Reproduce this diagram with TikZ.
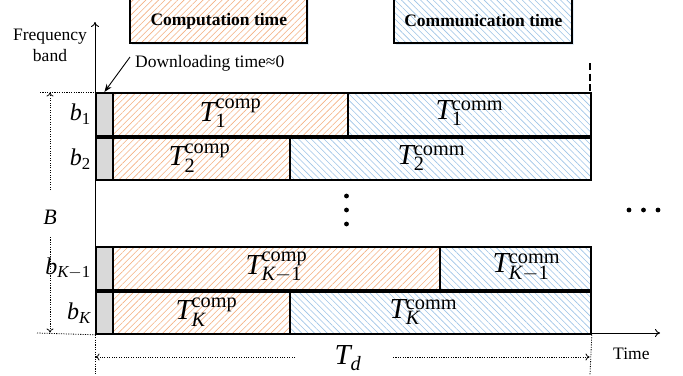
\documentclass[tikz,border=0pt]{standalone}
\usepackage{fontspec}
\setmainfont{Liberation Serif}
\usetikzlibrary{patterns.meta,arrows.meta,shadows}
\definecolor{comporange}{HTML}{F4B183}
\definecolor{commblue}{HTML}{9DC3E6}
\definecolor{dlgray}{HTML}{D9D9D9}
\newcommand{\Tl}[2]{$\mathit{T}_{#1}^{\mathrm{#2}}$}
\begin{document}
\begin{tikzpicture}[x=1pt,y=-1pt,
  bar/.style={draw,line width=1.8pt,inner sep=0pt,anchor=north west,minimum height=#1},
  dlbox/.style={bar=#1,fill=dlgray,minimum width=17pt},
  compfill/.style={pattern={Lines[angle=45,distance=4.5pt,line width=0.6pt]},pattern color=comporange},
  commfill/.style={pattern={Lines[angle=-45,distance=4.5pt,line width=0.6pt]},pattern color=commblue},
  tlabel/.style={font=\fontsize{29}{29}\selectfont,inner sep=0pt},
  blabel/.style={font=\fontsize{24}{24}\selectfont,inner sep=0pt,anchor=east},
  txt/.style={font=\fontsize{17.5}{21}\selectfont,inner sep=0pt},
  legend/.style={draw,line width=1.8pt,anchor=north west,minimum height=45pt,inner sep=0pt,
     font=\fontsize{17.5}{17.5}\selectfont\bfseries,
     drop shadow={shadow xshift=1.5pt,shadow yshift=-1.5pt,fill=commblue,opacity=0.3},
     preaction={fill=white}},
  axis/.style={line width=0.9pt,-{To[length=5pt,width=8pt]}},
  dimline/.style={line width=0.8pt,dash pattern=on 1.1pt off 1.3pt},
  dimarrow/.style={dimline,-{To[length=4pt,width=7pt]}},
  bigdot/.style={circle,fill=black,inner sep=0pt,minimum size=4.8pt}
]
\useasboundingbox (0,0) rectangle (683,375);

% legend
\node[legend,compfill,minimum width=177pt] (legcomp) at (130,-2) {Computation time};
\node[legend,commfill,minimum width=178pt] (legcomm) at (394,-2) {Communication time};

% axes
\coordinate (origin) at (95,333);
\coordinate (ytop) at (95,22);
\coordinate (xend) at (660,333);
\draw[axis] (origin) -- (ytop);
\draw[axis] (origin) -- (xend);

\node[txt,align=center] (fb) at (50,45) {Frequency\\band};

% rows
\node[dlbox=43pt] (g1) at (95,92) {};
\node[bar=43pt,compfill,minimum width=235pt] (c1) at (112,92) {};
\node[bar=43pt,commfill,minimum width=243pt] (m1) at (347,92) {};

\node[dlbox=42pt] (g2) at (95,137) {};
\node[bar=42pt,compfill,minimum width=177pt] (c2) at (112,137) {};
\node[bar=42pt,commfill,minimum width=301pt] (m2) at (289,137) {};

\node[dlbox=43pt] (g3) at (95,246) {};
\node[bar=43pt,compfill,minimum width=327pt] (c3) at (112,246) {};
\node[bar=43pt,commfill,minimum width=151pt] (m3) at (439,246) {};

\node[dlbox=42pt] (g4) at (95,291) {};
\node[bar=42pt,compfill,minimum width=177pt] (c4) at (112,291) {};
\node[bar=42pt,commfill,minimum width=301pt] (m4) at (289,291) {};

% bar labels
\node[tlabel] (tc1) at ([yshift=1pt]c1.center) {\Tl{\mathrm{1}}{comp}};
\node[tlabel] (tm1) at ([yshift=1pt]m1.center) {\Tl{\mathrm{1}}{comm}};
\node[tlabel] (tc2) at ([xshift=-2pt,yshift=1pt]c2.center) {\Tl{\mathrm{2}}{comp}};
\node[tlabel] (tm2) at ([xshift=-9pt,yshift=1pt]m2.center) {\Tl{\mathrm{2}}{comm}};
\node[tlabel] (tc3) at ([yshift=1pt]c3.center) {\Tl{\mathit{K}-\mathrm{1}}{comp}};
\node[tlabel] (tm3) at ([xshift=11pt,yshift=1pt]m3.center) {\Tl{\mathit{K}-\mathrm{1}}{comm}};
\node[tlabel] (tc4) at ([xshift=5pt,yshift=1pt]c4.center) {\Tl{\mathit{K}}{comp}};
\node[tlabel] (tm4) at ([xshift=-17pt,yshift=1pt]m4.center) {\Tl{\mathit{K}}{comm}};

% row labels
\node[blabel] (b1) at ([xshift=-4pt]g1.west) {$\mathit{b}_{\mathrm{1}}$};
\node[blabel] (b2) at ([xshift=-4pt]g2.west) {$\mathit{b}_{\mathrm{2}}$};
\node[blabel] (b3) at ([xshift=-4pt]g3.west) {$\mathit{b}_{\mathit{K}-\mathrm{1}}$};
\node[blabel] (b4) at ([xshift=-4pt]g4.west) {$\mathit{b}_{\mathit{K}}$};

% downloading
\node[txt,anchor=base west] (dl) at (135,67) {Downloading time≈0};
\coordinate (dlstart) at (130,57);
\draw[line width=0.9pt,-{Stealth[length=8pt,width=6pt]}] (dlstart) -- (g1.north);

% dashed end line
\coordinate (dtop) at (590,63);
\coordinate (dbot) at (590,91);
\draw[line width=1.2pt,dash pattern=on 7pt off 3.5pt] (dtop) -- (dbot);

% dots
\node[bigdot] (vd1) at (346.5,196) {};
\node[bigdot] (vd2) at (346.5,210) {};
\node[bigdot] (vd3) at (346.5,224) {};
\node[bigdot] (hd1) at (629,210) {};
\node[bigdot] (hd2) at (643.5,210) {};
\node[bigdot] (hd3) at (658,210) {};

% B dimension
\coordinate (bl1) at (40,92);
\coordinate (bl2) at (37,333);
\coordinate (bu) at (50,92.5);
\coordinate (bd) at (50,332.5);
\coordinate (bm1) at (50,190);
\coordinate (bm2) at (50,237);
\draw[dimline] (bl1) -- (g1.north west);
\draw[dimline] (bl2) -- (g4.south west);
\draw[dimarrow] (bm1) -- (bu);
\draw[dimarrow] (bm2) -- (bd);
\node[font=\fontsize{22}{22}\selectfont,inner sep=0pt] (B) at (50,217) {$\mathit{B}$};

% Td dimension
\coordinate (tdl) at (95,375);
\coordinate (tdr) at (590,375);
\coordinate (tdla) at (95.5,357);
\coordinate (tdra) at (589.5,357);
\coordinate (tdl2) at (295,357);
\coordinate (tdr2) at (393,357);
\draw[dimline] (g4.south west) -- (tdl);
\draw[dimline] (m4.south east) -- (tdr);
\draw[dimarrow] (tdl2) -- (tdla);
\draw[dimarrow] (tdr2) -- (tdra);
\node[tlabel] (Td) at (348,358) {$\mathit{T}_{\mathit{d}}$};
\node[txt,anchor=base west] (time) at (613,359) {Time};
\end{tikzpicture}
\end{document}
